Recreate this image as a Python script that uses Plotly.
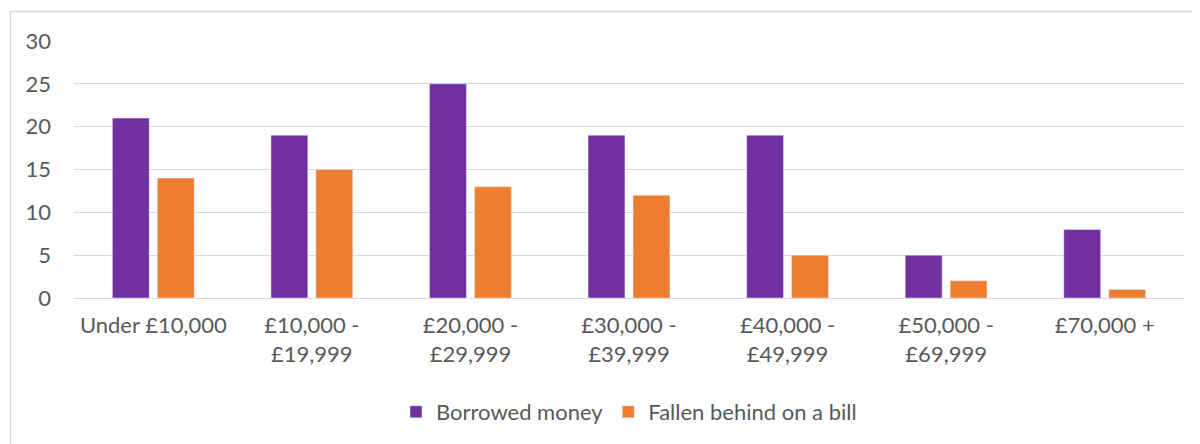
import plotly.graph_objects as go

categories = ["Under £10,000", "£10,000 -<br>£19,999", "£20,000 -<br>£29,999", "£30,000 -<br>£39,999",
              "£40,000 -<br>£49,999", "£50,000 -<br>£69,999", "£70,000 +"]
borrowed = [21, 19, 25, 19, 19, 5, 8]
fallen = [14, 15, 13, 12, 5, 2, 1]

OFF = 8  # page body margin
W, H = 1200 - OFF, 444 - OFF
# page-coordinate plot area: x 74..1184, y 41..299
L, R, T, B = 74 - OFF, 1200 - 1184, 41 - OFF, 444 - 299
pw, ph = W - L - R, H - T - B

def px(x):  # page x -> paper
    return (x - OFF - L) / pw

def py(y):  # page y -> paper
    return (H - B - (y - OFF)) / ph

font = "Lato, Calibri, Carlito, sans-serif"
FS = 22

fig = go.Figure()
fig.add_bar(x=categories, y=borrowed, name="Borrowed money", marker_color="#7030A0")
fig.add_bar(x=categories, y=fallen, name="Fallen behind on a bill", marker_color="#ED7D31")

fig.update_layout(
    width=W, height=H,
    margin=dict(l=L, r=R, t=T, b=B),
    paper_bgcolor="white", plot_bgcolor="white",
    barmode="group", bargap=0.433, bargroupgap=0.18,
    font=dict(family=font, size=FS, color="#595959"),
    showlegend=True,
    legend=dict(orientation="h", x=0.5, xanchor="center", y=py(412), yanchor="middle",
                font=dict(size=FS, color="#595959"), itemwidth=30, traceorder="normal"),
    xaxis=dict(showgrid=False, showline=True, linecolor="#d9d9d9", linewidth=1,
               ticks="", ticklabelstandoff=8, tickfont=dict(size=FS)),
    yaxis=dict(range=[0, 30], dtick=5, showgrid=True, gridcolor="#d9d9d9", gridwidth=1,
               zeroline=False, ticks="", ticklabelstandoff=22, tickfont=dict(size=FS)),
    shapes=[
        dict(type="line", xref="paper", yref="paper", x0=px(10.5), x1=px(1210), y0=py(11.5), y1=py(11.5),
             line=dict(color="#d9d9d9", width=1.5)),
        dict(type="line", xref="paper", yref="paper", x0=px(10.5), x1=px(10.5), y0=py(11.5), y1=py(460),
             line=dict(color="#d9d9d9", width=1.5)),
    ],
)

fig.write_html("out.html")
